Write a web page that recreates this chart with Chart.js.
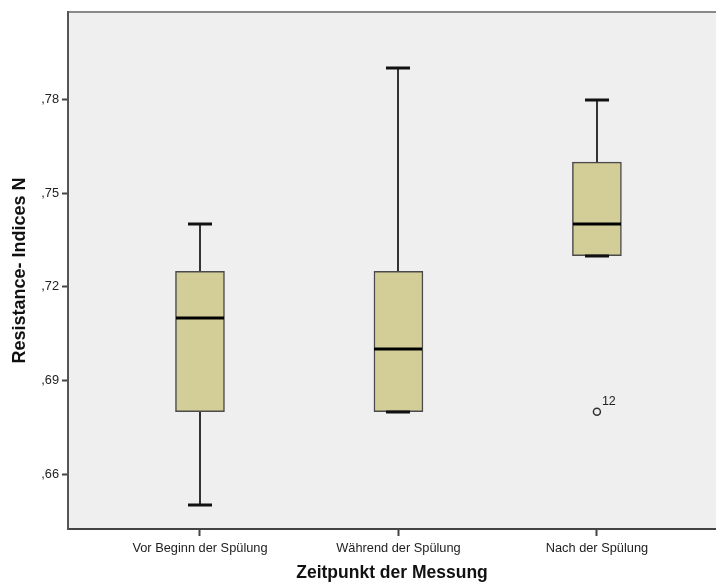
<!DOCTYPE html>
<html>
<head>
<meta charset="utf-8">
<script src="https://cdn.jsdelivr.net/npm/chart.js@4/dist/chart.umd.min.js"></script>
<style>
  html, body { margin: 0; padding: 0; background: #ffffff; overflow: hidden; }
  #wrap { width: 716px; height: 584px; position: relative; }
</style>
</head>
<body>
<div id="wrap"><canvas id="c" width="716" height="584"></canvas></div>
<script>
// Resistance indices per measurement time (box plot summary)
const categories = ['Vor Beginn der Spülung', 'Während der Spülung', 'Nach der Spülung'];
const whiskerLow  = [0.65, 0.68, 0.73];
const quartile1   = [0.68, 0.68, 0.73];
const medians     = [0.71, 0.70, 0.74];
const quartile3   = [0.725, 0.725, 0.76];
const whiskerHigh = [0.74, 0.79, 0.78];
const outlierCategory = [3];
const outlierValues   = [0.68];
const outlierLabels   = ['12'];
const yTicks = [0.66, 0.69, 0.72, 0.75, 0.78];

const FONT = '"Liberation Sans", Arial, sans-serif';
const positions = categories.map((_, i) => i + 1);

// Plot background and top frame line
const frame = {
  id: 'frame',
  beforeDraw(chart) {
    const { ctx, chartArea: a } = chart;
    ctx.save();
    ctx.fillStyle = '#efefef';
    ctx.fillRect(a.left, a.top, a.right - a.left, a.bottom - a.top);
    ctx.strokeStyle = '#8a8a8a';
    ctx.lineWidth = 2;
    ctx.beginPath();
    ctx.moveTo(a.left, a.top);
    ctx.lineTo(a.right, a.top);
    ctx.stroke();
    ctx.restore();
  }
};

// Whiskers behind the boxes, medians and caps on top
const boxParts = {
  id: 'boxParts',
  beforeDatasetsDraw(chart) {
    const { ctx, scales: { x, y } } = chart;
    ctx.save();
    ctx.strokeStyle = '#333333';
    ctx.lineWidth = 2;
    positions.forEach((p, i) => {
      const px = Math.round(x.getPixelForValue(p));
      ctx.beginPath();
      ctx.moveTo(px, y.getPixelForValue(whiskerHigh[i]));
      ctx.lineTo(px, y.getPixelForValue(quartile3[i]));
      ctx.moveTo(px, y.getPixelForValue(quartile1[i]));
      ctx.lineTo(px, y.getPixelForValue(whiskerLow[i]));
      ctx.stroke();
    });
    ctx.restore();
  },
  afterDatasetsDraw(chart) {
    const { ctx, scales: { x, y } } = chart;
    ctx.save();
    positions.forEach((p, i) => {
      const px = Math.round(x.getPixelForValue(p));
      // caps
      ctx.strokeStyle = '#111111';
      ctx.lineWidth = 3;
      [whiskerHigh[i], whiskerLow[i]].forEach(v => {
        const py = Math.round(y.getPixelForValue(v));
        ctx.beginPath();
        ctx.moveTo(px - 12, py);
        ctx.lineTo(px + 12, py);
        ctx.stroke();
      });
      // median
      const my = Math.round(y.getPixelForValue(medians[i]));
      ctx.strokeStyle = '#000000';
      ctx.lineWidth = 3;
      ctx.beginPath();
      ctx.moveTo(px - 24, my);
      ctx.lineTo(px + 24, my);
      ctx.stroke();
    });
    // outlier case labels
    ctx.fillStyle = '#222222';
    ctx.font = '12.5px ' + FONT;
    ctx.textAlign = 'left';
    ctx.textBaseline = 'alphabetic';
    outlierValues.forEach((v, k) => {
      const px = x.getPixelForValue(outlierCategory[k]);
      const py = y.getPixelForValue(v);
      ctx.fillText(outlierLabels[k], px + 5, py - 7);
    });
    ctx.restore();
  }
};

new Chart(document.getElementById('c'), {
  type: 'bar',
  data: {
    datasets: [
      {
        type: 'bar',
        data: positions.map((p, i) => ({ x: p, y: [quartile1[i], quartile3[i]] })),
        backgroundColor: '#d3ce98',
        borderColor: '#4a4a4a',
        borderWidth: 1.5,
        borderSkipped: false,
        barThickness: 49
      },
      {
        type: 'scatter',
        data: outlierValues.map((v, k) => ({ x: outlierCategory[k], y: v })),
        pointStyle: 'circle',
        pointRadius: 3.5,
        pointBackgroundColor: 'rgba(0,0,0,0)',
        pointBorderColor: '#333333',
        pointBorderWidth: 1.5
      }
    ]
  },
  options: {
    responsive: false,
    animation: false,
    layout: { autoPadding: false, padding: { top: 12, right: 0, bottom: 0, left: 0 } },
    plugins: { legend: { display: false }, tooltip: { enabled: false } },
    scales: {
      x: {
        type: 'linear',
        offset: false,
        min: 0.335,
        max: 3.6,
        afterBuildTicks(scale) { scale.ticks = positions.map(v => ({ value: v })); },
        afterFit(scale) { scale.height = 55; scale.paddingLeft = 0; scale.paddingRight = 0; },
        ticks: {
          callback: v => categories[Math.round(v) - 1] || '',
          font: { family: FONT, size: 12.8 },
          color: '#222222',
          padding: 5,
          maxRotation: 0,
          autoSkip: false
        },
        grid: { offset: false, drawOnChartArea: false, drawTicks: true, tickLength: 7, tickWidth: 2, tickColor: '#444444' },
        border: { display: true, color: '#444444', width: 2 },
        title: {
          display: true,
          text: 'Zeitpunkt der Messung',
          font: { family: FONT, size: 17.5, weight: 'bold' },
          color: '#111111',
          padding: { top: 0, bottom: 0 }
        }
      },
      y: {
        type: 'linear',
        min: 0.6424,
        max: 0.8081,
        afterBuildTicks(scale) { scale.ticks = yTicks.map(v => ({ value: v })); },
        afterFit(scale) { scale.width = 68; },
        ticks: {
          callback: v => v.toFixed(2).replace('0.', ','),
          font: { family: FONT, size: 12.8 },
          color: '#222222',
          padding: 3
        },
        grid: { drawOnChartArea: false, drawTicks: true, tickLength: 6, tickWidth: 2, tickColor: '#444444' },
        border: { display: true, color: '#555555', width: 2 },
        title: {
          display: true,
          text: 'Resistance- Indices N',
          font: { family: FONT, size: 18, weight: 'bold' },
          color: '#111111',
          padding: { top: 9, bottom: 0 }
        }
      }
    }
  },
  plugins: [frame, boxParts]
});
</script>
</body>
</html>
